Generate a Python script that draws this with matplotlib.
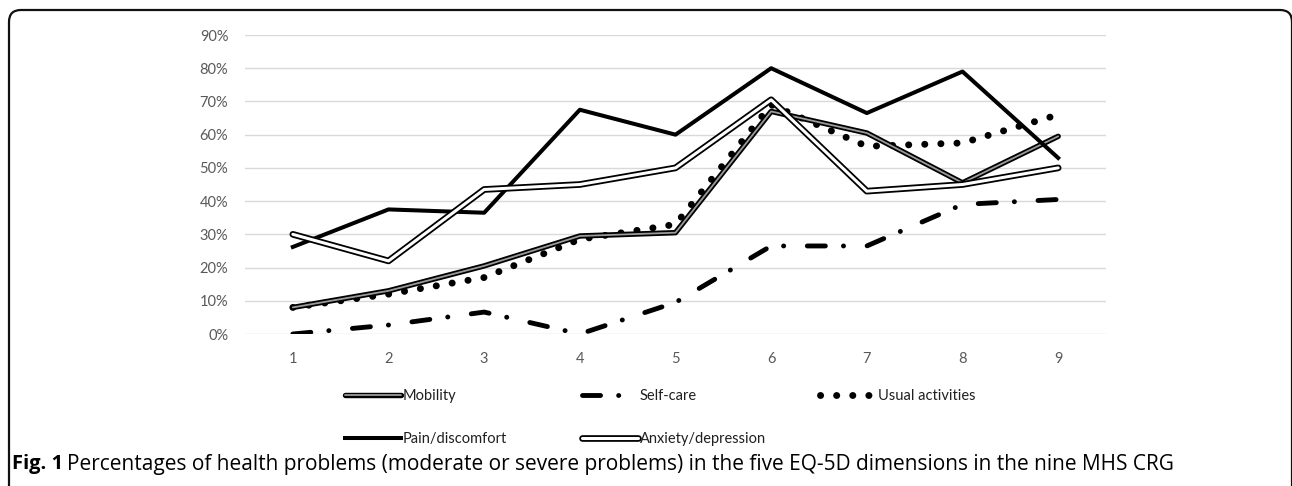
import numpy as np
import matplotlib
matplotlib.use("Agg")
import matplotlib.pyplot as plt
import matplotlib.patheffects as pe
from matplotlib.patches import FancyBboxPatch
from matplotlib.transforms import IdentityTransform

plt.rcParams["lines.scale_dashes"] = False
plt.rcParams["font.family"] = ["Lato", "DejaVu Sans"]

# MHS CRG groups 1..9, share with moderate or severe problems
groups = [1, 2, 3, 4, 5, 6, 7, 8, 9]
mobility = [0.08, 0.13, 0.205, 0.295, 0.305, 0.67, 0.605, 0.455, 0.595]
self_care = [0.0, 0.027, 0.066, 0.0, 0.095, 0.265, 0.265, 0.39, 0.405]
usual = [0.08, 0.12, 0.17, 0.285, 0.33, 0.69, 0.565, 0.575, 0.66]
pain = [0.262, 0.375, 0.365, 0.675, 0.60, 0.80, 0.665, 0.79, 0.53]
anxiety = [0.30, 0.22, 0.435, 0.45, 0.50, 0.705, 0.43, 0.45, 0.50]

W, H = 1292, 486
fig = plt.figure(figsize=(W / 100, H / 100), dpi=100)
ax = fig.add_axes([245 / W, (H - 334) / H, 861 / W, 299 / H])

# double lines: black outline with coloured core
mob_line, = ax.plot(groups, mobility, color="#9a9a9a", lw=1.3, solid_capstyle="round",
                    path_effects=[pe.Stroke(linewidth=3.9, foreground="black"), pe.Normal()],
                    label="Mobility", zorder=4)
sc_line, = ax.plot(groups, self_care, color="black", lw=3.5, dash_capstyle="round",
                   linestyle=(0, (13, 13, 0.1, 17)), label="Self-care", zorder=3)
ua_line, = ax.plot(groups, usual, color="black", lw=5.0, dash_capstyle="round",
                   linestyle=(0, (0.1, 11.5)), label="Usual activities", zorder=3)
pain_line, = ax.plot(groups, pain, color="black", lw=2.9, label="Pain/discomfort", zorder=4)
anx_line, = ax.plot(groups, anxiety, color="white", lw=2.2, solid_capstyle="round",
                    path_effects=[pe.Stroke(linewidth=4.8, foreground="black"), pe.Normal()],
                    label="Anxiety/depression", zorder=4)

ax.set_xlim(0.5, 9.5)
ax.set_ylim(0, 0.9)
ax.set_xticks(groups)
ax.set_yticks(np.arange(0, 0.91, 0.1))
ax.set_yticklabels([f"{int(round(v * 100))}%" for v in np.arange(0, 0.91, 0.1)])
ax.tick_params(length=0, labelsize=10.5, labelcolor="#595959")
ax.tick_params(axis="y", pad=12)
ax.tick_params(axis="x", pad=13)
ax.grid(axis="y", color="#d9d9d9", lw=1.0)
ax.set_axisbelow(True)
for s in ax.spines.values():
    s.set_visible(False)

# legend laid out in three columns like the original
cols = [([mob_line, pain_line], 338), ([sc_line, anx_line], 575), ([ua_line], 813)]
for hs, x in cols:
    fig.legend(handles=hs, loc="upper left", bbox_to_anchor=(x / W, 1 - 382 / H),
               frameon=False, fontsize=10.5, handlelength=3.8, handletextpad=0.15,
               labelspacing=1.95, borderpad=0, labelcolor="#202020")

# caption
fig.text(12 / W, 1 - 464 / H, "Fig. 1", fontsize=14.5, fontweight="bold",
         family=["Open Sans", "DejaVu Sans"], va="center", ha="left")
fig.text(67 / W, 1 - 464 / H,
         "Percentages of health problems (moderate or severe problems) in the five EQ-5D "
         "dimensions in the nine MHS CRG",
         fontsize=15, family=["Open Sans", "DejaVu Sans"], va="center", ha="left")

# rounded frame around the figure, in pixels
frame = FancyBboxPatch((9, -30), 1283, H - 10 + 30,
                       boxstyle="round,pad=0,rounding_size=12",
                       transform=IdentityTransform(), fill=False, lw=1.6,
                       edgecolor="#111111")
fig.add_artist(frame)

fig.savefig("out.png", dpi=100)
